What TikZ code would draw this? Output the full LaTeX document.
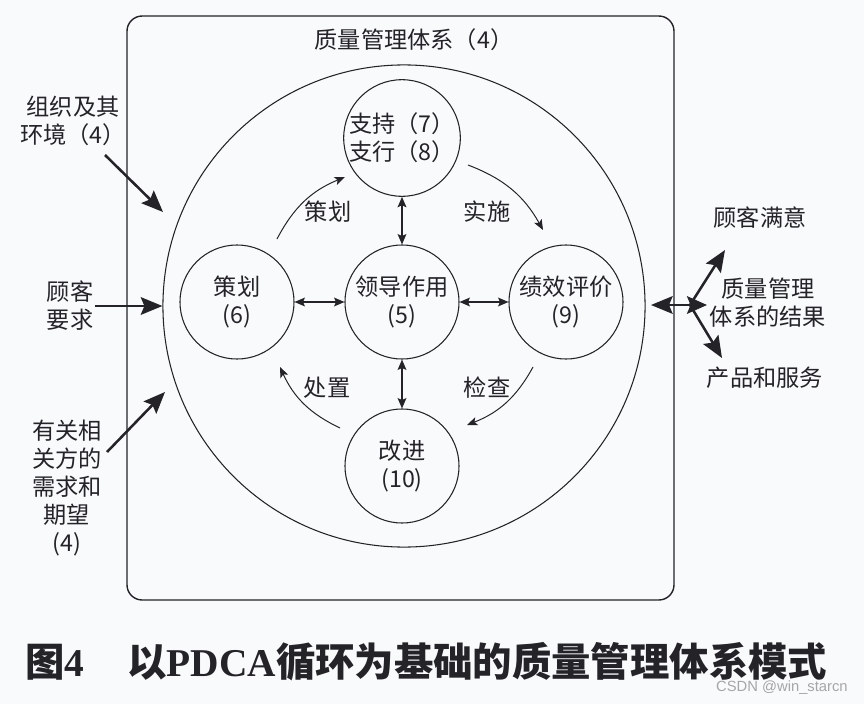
\documentclass[tikz,border=0pt]{standalone}
\usepackage{fontspec}
\setmainfont{Noto Sans CJK SC}
\newfontfamily\capserif{Liberation Serif}
\newfontfamily\markfont{Liberation Sans}
\usetikzlibrary{arrows.meta}
\definecolor{ink}{RGB}{35,35,40}
\definecolor{paper}{RGB}{249,250,251}
\begin{document}
\begin{tikzpicture}[x=0.025cm,y=0.025cm,
  every node/.style={text=ink},
  txt/.style={align=center, inner sep=1pt, font=\fontsize{16.5}{19.8}\selectfont},
  sub/.style={draw=ink, circle, line width=0.75pt, minimum size=2.85cm, inner sep=0pt, align=center, font=\fontsize{16.5}{19.8}\selectfont},
  bigarrow/.style={draw=ink, line width=1.8pt, -{Stealth[length=5.4mm,width=4.4mm,inset=0.9mm]}},
  bigboth/.style={draw=ink, line width=1.8pt, {Stealth[length=5.4mm,width=4.4mm,inset=0.9mm]}-{Stealth[length=5mm,width=4.4mm,inset=0.9mm]}},
  duo/.style={draw=ink, line width=1pt, {Stealth[length=2.6mm,width=2.2mm,inset=0.5mm]}-{Stealth[length=2.6mm,width=2.2mm,inset=0.5mm]}},
  turn/.style={draw=ink, line width=0.7pt, -{Stealth[length=2.6mm,width=2.1mm,inset=0.6mm]}, bend left=20}]
\fill[paper] (0,0) rectangle (864,-704);
\useasboundingbox (0,0) rectangle (864,-704);

\draw[ink, line width=1pt, rounded corners=0.38cm] (127,-16) rectangle (674,-600);
\node[txt] (qms) at (414,-40) {质量管理体系（4）};

\node[draw=ink, circle, line width=0.75pt, minimum size=12.05cm, inner sep=0pt] (ring) at (404,-306) {};

\node[sub] (zhichi) at (402,-138) {支持（7）\\支行（8）};
\node[sub] (cehua) at (237,-302) {策划\\(6)};
\node[sub] (lingdao) at (402,-302) {领导作用\\(5)};
\node[sub] (jixiao) at (566,-302) {绩效评价\\(9)};
\node[sub] (gaijin) at (402,-466) {改进\\(10)};

\draw[duo] (zhichi) -- (lingdao);
\draw[duo] (lingdao) -- (gaijin);
\draw[duo] (cehua) -- (lingdao);
\draw[duo] (lingdao) -- (jixiao);

\coordinate (p1) at (277,-239);
\coordinate (p2) at (345,-177);
\coordinate (d1) at (468,-165);
\coordinate (d2) at (543,-230);
\coordinate (c1) at (533,-367);
\coordinate (c2) at (467,-425);
\coordinate (a1) at (340,-428);
\coordinate (a2) at (280,-367);
\draw[turn] (p1) to (p2);
\draw[turn] (d1) to (d2);
\draw[turn] (c1) to (c2);
\draw[turn] (a1) to (a2);
\node[txt] (lplan) at (328,-212) {策划};
\node[txt] (ldo) at (487,-212) {实施};
\node[txt] (lact) at (327,-388) {处置};
\node[txt] (lcheck) at (487,-388) {检查};

\node[txt] (zuzhi) at (73,-121) {组织及其\\环境（4）};
\node[txt] (guke) at (70,-306) {顾客\\要求};
\node[txt] (xiangguan) at (67,-488) {有关相\\关方的\\需求和\\期望\\(4)};
\coordinate (z1) at (105,-155);
\coordinate (z2) at (163,-212);
\coordinate (x1) at (107,-452);
\coordinate (x2) at (165,-392);
\draw[bigarrow] (z1) -- (z2);
\draw[bigarrow] (guke.east) -- (ring.west);
\draw[bigarrow] (x1) -- (x2);

\coordinate (outL) at (651,-305);
\coordinate (outR) at (707,-305);
\coordinate (fork) at (690,-305);
\coordinate (upTip) at (725,-250);
\coordinate (downTip) at (722,-358);
\draw[bigboth] (outL) -- (outR);
\draw[bigarrow] (fork) -- (upTip);
\draw[bigarrow] (fork) -- (downTip);
\node[txt] (manyi) at (760,-218) {顾客满意};
\node[txt] (jieguo) at (768,-303) {质量管理\\体系的结果};
\node[txt] (chanpin) at (765,-378) {产品和服务};

\node[anchor=west, inner sep=0pt, font=\fontsize{28}{30}\selectfont\bfseries] (tu) at (25,-662) {图{\capserif 4}};
\node[anchor=west, inner sep=0pt, font=\fontsize{28}{30}\selectfont\bfseries] (biaoti) at (127,-662) {以{\capserif PDCA}循环为基础的质量管理体系模式};
\node[anchor=east, inner sep=0pt, text=gray!70, font=\markfont\fontsize{10.5}{12}\selectfont] (mark) at (848,-688) {CSDN @win\_starcn};
\end{tikzpicture}
\end{document}
